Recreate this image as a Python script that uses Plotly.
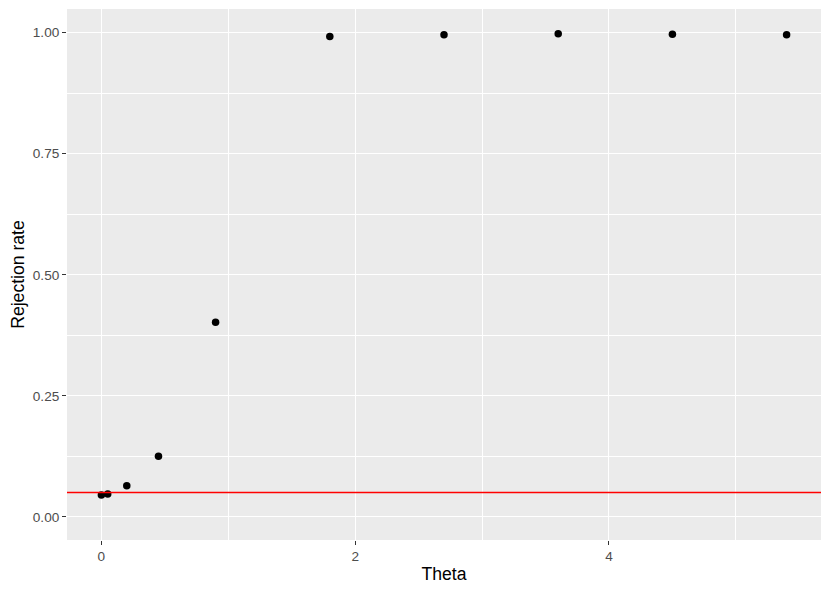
import plotly.graph_objects as go

theta = [0, 0.05, 0.2, 0.45, 0.9, 1.8, 2.7, 3.6, 4.5, 5.4]
rejection_rate = [0.045, 0.047, 0.064, 0.125, 0.402, 0.992, 0.996, 0.998, 0.997, 0.996]
nominal_level = 0.05

fig = go.Figure()

fig.add_trace(go.Scatter(
    x=theta,
    y=rejection_rate,
    mode="markers",
    marker=dict(color="black", size=7.5),
    showlegend=False
))

fig.add_hline(y=nominal_level, line=dict(color="#FF0000", width=1.5), layer="above")

axis_common = dict(
    showgrid=True,
    gridcolor="white",
    gridwidth=1.1,
    zeroline=False,
    showline=False,
    ticks="outside",
    ticklen=4,
    tickwidth=1,
    tickcolor="#333333",
    tickfont=dict(family="Liberation Sans", size=13.6, color="#4D4D4D"),
    title_font=dict(family="Liberation Sans", size=17.6, color="black"),
)

# page body keeps its default 8px margin, so size/margins are shifted by it
fig.update_layout(
    width=822,
    height=585,
    margin=dict(l=59, r=9, t=1, b=53),
    paper_bgcolor="white",
    plot_bgcolor="#EBEBEB",
    xaxis=dict(
        axis_common,
        range=[-0.271, 5.671],
        tickvals=[0, 2, 4],
        ticktext=["0", "2", "4"],
        minor=dict(tickvals=[1, 3, 5], showgrid=True, gridcolor="white", gridwidth=0.55, ticks=""),
        title=dict(text="Theta", standoff=4),
    ),
    yaxis=dict(
        axis_common,
        range=[-0.048, 1.049],
        tickvals=[0, 0.25, 0.5, 0.75, 1.0],
        ticktext=["0.00", "0.25", "0.50", "0.75", "1.00"],
        minor=dict(tickvals=[0.125, 0.375, 0.625, 0.875], showgrid=True, gridcolor="white", gridwidth=0.55, ticks=""),
        title=dict(text="Rejection rate", standoff=5),
    ),
)

fig.write_html("out.html")
